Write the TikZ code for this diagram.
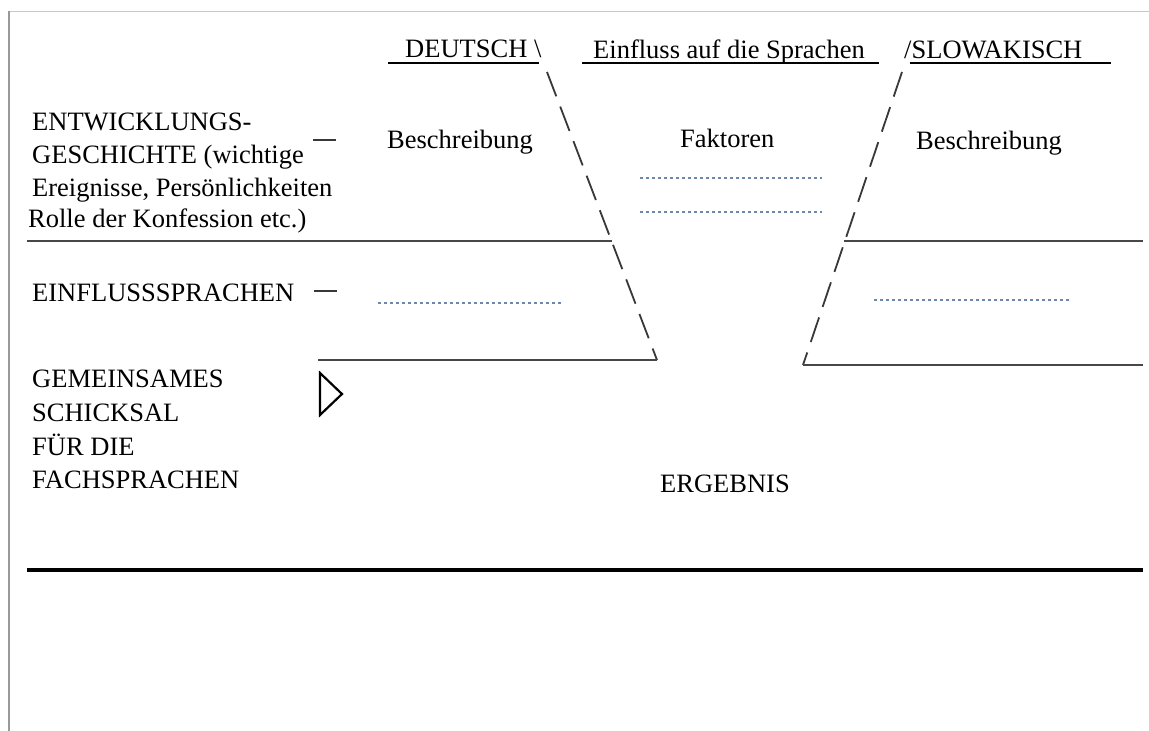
\documentclass[tikz,border=0pt]{standalone}
\usepackage{fontspec}
\setmainfont{LiberationSerif}[Extension=.ttf,UprightFont=*-Regular,BoldFont=*-Bold]
\begin{document}
\begin{tikzpicture}[x=1pt,y=-1pt,
  lbl/.style={anchor=base west,inner sep=0pt,font=\rmfamily\fontsize{26.5}{32}\selectfont},
  rule/.style={draw=black!72,line width=1.7pt},
  ulrule/.style={draw=black,line width=2.6pt},
  bottomrule/.style={draw=black,line width=4pt},
  divider/.style={draw=black!78,line width=1.8pt,dash pattern=on 26pt off 11pt},
  blank/.style={draw={rgb,255:red,110;green,135;blue,175},line width=1.4pt,dash pattern=on 2.6pt off 3.4pt},
  tick/.style={draw=black!78,line width=1.8pt},
  pointer/.style={draw=black,line width=2.2pt,line join=miter}]
\useasboundingbox (0,0) rectangle (1149,731);
\fill[white] (0,0) rectangle (1149,731);

% page frame
\coordinate (fTL) at (9,11);
\coordinate (fTR) at (1149,11);
\coordinate (fBL) at (9,731);
\draw[black!22,line width=1pt] (fTL) -- (fTR);
\draw[black!40,line width=2pt] (fTL) -- (fBL);

% column headings
\node[lbl] (hDE) at (405,57) {DEUTSCH \textbackslash};
\node[lbl] (hEI) at (593,58) {Einfluss auf die Sprachen};
\node[lbl] (hSK) at (904,58) {/SLOWAKISCH};
\coordinate (uDEa) at (388,63); \coordinate (uDEb) at (539,63);
\coordinate (uEIa) at (582,63); \coordinate (uEIb) at (879,63);
\coordinate (uSKa) at (910,63); \coordinate (uSKb) at (1111,63);
\draw[ulrule] (uDEa) -- (uDEb);
\draw[ulrule] (uEIa) -- (uEIb);
\draw[ulrule] (uSKa) -- (uSKb);

% row labels
\node[lbl] (r1a) at (32,130) {ENTWICKLUNGS-};
\node[lbl] (r1b) at (32,163) {GESCHICHTE (wichtige};
\node[lbl] (r1c) at (32,196) {Ereignisse, Persönlichkeiten};
\node[lbl] (r1d) at (28,227) {Rolle der Konfession etc.)};
\node[lbl] (r2)  at (32,301) {EINFLUSSSPRACHEN};
\node[lbl] (r3a) at (32,387) {GEMEINSAMES};
\node[lbl] (r3b) at (32,421) {SCHICKSAL};
\node[lbl] (r3c) at (32,455) {FÜR DIE};
\node[lbl] (r3d) at (32,488) {FACHSPRACHEN};

% short dashes after the row labels
\coordinate (t1a) at (313,140); \coordinate (t1b) at (336,140);
\coordinate (t2a) at (314,291); \coordinate (t2b) at (337,291);
\draw[tick] (t1a) -- (t1b);
\draw[tick] (t2a) -- (t2b);

% cell texts
\node[lbl] (bDE) at (387,148) {Beschreibung};
\node[lbl] (fEI) at (680,147) {Faktoren};
\node[lbl] (bSK) at (916,149) {Beschreibung};
\node[lbl] (res) at (660,492) {ERGEBNIS};

% fill-in lines
\coordinate (d1a) at (640,178); \coordinate (d1b) at (822,178);
\coordinate (d2a) at (640,212); \coordinate (d2b) at (822,212);
\coordinate (d3a) at (378,303); \coordinate (d3b) at (561,303);
\coordinate (d4a) at (874,300); \coordinate (d4b) at (1069,300);
\draw[blank] (d1a) -- (d1b);
\draw[blank] (d2a) -- (d2b);
\draw[blank] (d3a) -- (d3b);
\draw[blank] (d4a) -- (d4b);

% funnel dividers
\coordinate (vLt) at (547,72);  \coordinate (vLb) at (657,360);
\coordinate (vRt) at (902,72);  \coordinate (vRb) at (803,365);
\draw[divider] (vLt) -- (vLb);
\draw[divider] (vRt) -- (vRb);

% row separators
\coordinate (s1a) at (27,241);  \coordinate (s1b) at (612,241);
\coordinate (s2a) at (844,241); \coordinate (s2b) at (1143,241);
\coordinate (s3a) at (318,360);
\coordinate (s4b) at (1143,365);
\draw[rule] (s1a) -- (s1b);
\draw[rule] (s2a) -- (s2b);
\draw[rule] (s3a) -- (vLb);
\draw[rule] (vRb) -- (s4b);

% pointer triangle
\coordinate (pA) at (320,373);
\coordinate (pB) at (342,394);
\coordinate (pC) at (320,415);
\draw[pointer] (pA) -- (pB) -- (pC) -- cycle;

% bottom rule
\coordinate (bA) at (27,570); \coordinate (bB) at (1143,570);
\draw[bottomrule] (bA) -- (bB);
\end{tikzpicture}
\end{document}
